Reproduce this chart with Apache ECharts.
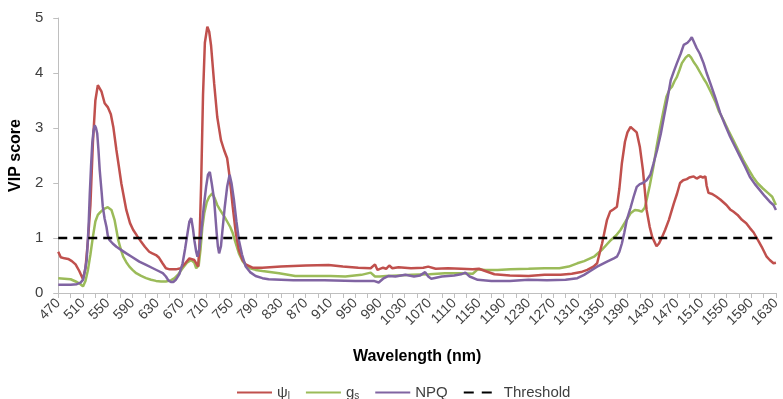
<!DOCTYPE html>
<html>
<head>
<meta charset="utf-8">
<script src="https://cdn.jsdelivr.net/npm/echarts@6/dist/echarts.min.js"></script>
<style>
  html, body { margin: 0; padding: 0; background: #fff; }
  #chart { width: 783px; height: 399px; }
</style>
</head>
<body>
<div id="chart"></div>
<script>
// VIP scores, per wavelength (nm)
const psiNm = [470, 474, 480, 486, 492, 498, 504, 510, 514, 518, 522, 526, 530, 534, 537, 540, 545, 550, 555, 559, 564, 568, 572, 580, 586, 591, 598, 604, 610, 617, 622, 628, 633, 638, 644, 650, 660, 668, 676, 682, 690, 696, 698, 701, 704, 707, 711, 714, 717, 722, 727, 733, 738, 743, 746, 749, 752, 757, 762, 768, 773, 784, 800, 830, 870, 907, 930, 955, 975, 982, 986, 995, 1000, 1005, 1010, 1020, 1040, 1060, 1068, 1080, 1100, 1121, 1140, 1150, 1160, 1175, 1200, 1230, 1256, 1282, 1300, 1315, 1325, 1335, 1341, 1349, 1357, 1362, 1367, 1373, 1377, 1381, 1386, 1390, 1395, 1399, 1405, 1410, 1415, 1421, 1426, 1430, 1437, 1441, 1446, 1451, 1457, 1465, 1470, 1475, 1480, 1486, 1490, 1497, 1502, 1508, 1512, 1516, 1518, 1521, 1527, 1534, 1540, 1545, 1550, 1556, 1561, 1568, 1575, 1582, 1588, 1594, 1599, 1603, 1607, 1611, 1615, 1620, 1626, 1630];
const psiVal = [0.75, 0.65, 0.63, 0.62, 0.58, 0.52, 0.4, 0.25, 0.45, 0.95, 1.6, 2.73, 3.5, 3.78, 3.81, 3.66, 3.45, 3.38, 3.25, 3.02, 2.6, 2.3, 1.99, 1.51, 1.27, 1.15, 1.03, 0.93, 0.84, 0.75, 0.72, 0.69, 0.64, 0.55, 0.45, 0.43, 0.43, 0.45, 0.55, 0.63, 0.6, 0.48, 0.8, 2.0, 3.6, 4.55, 4.84, 4.75, 4.5, 3.81, 3.2, 2.78, 2.6, 2.45, 2.2, 1.9, 1.57, 1.09, 0.78, 0.6, 0.52, 0.46, 0.46, 0.48, 0.5, 0.51, 0.48, 0.46, 0.45, 0.52, 0.42, 0.46, 0.44, 0.5, 0.45, 0.47, 0.45, 0.46, 0.48, 0.44, 0.45, 0.44, 0.43, 0.44, 0.4, 0.34, 0.32, 0.31, 0.33, 0.33, 0.35, 0.38, 0.42, 0.48, 0.54, 0.9, 1.33, 1.48, 1.52, 1.57, 1.9, 2.36, 2.75, 2.92, 3.02, 2.98, 2.92, 2.66, 2.24, 1.51, 1.2, 1.02, 0.85, 0.9, 1.02, 1.15, 1.33, 1.63, 1.8, 2.0, 2.05, 2.07, 2.1, 2.12, 2.08, 2.12, 2.1, 2.12, 1.95, 1.82, 1.8, 1.75, 1.7, 1.65, 1.6, 1.52, 1.48, 1.42, 1.33, 1.27, 1.18, 1.1, 1.0, 0.92, 0.84, 0.75, 0.66, 0.6, 0.54, 0.55];

const gsNm = [470, 480, 490, 500, 506, 510, 514, 518, 522, 526, 530, 534, 538, 542, 546, 550, 553, 556, 561, 564, 567, 571, 575, 580, 585, 590, 596, 604, 612, 620, 628, 636, 644, 652, 658, 664, 671, 678, 685, 690, 693, 697, 700, 703, 706, 710, 714, 719, 723, 727, 731, 735, 739, 743, 748, 752, 757, 762, 768, 773, 780, 789, 800, 827, 853, 880, 910, 934, 960, 975, 978, 982, 990, 1000, 1020, 1041, 1070, 1095, 1120, 1140, 1148, 1160, 1180, 1201, 1230, 1256, 1280, 1295, 1309, 1320, 1336, 1350, 1363, 1372, 1379, 1387, 1395, 1402, 1408, 1413, 1418, 1421, 1426, 1432, 1437, 1442, 1448, 1453, 1458, 1462, 1466, 1470, 1474, 1478, 1484, 1489, 1493, 1497, 1502, 1508, 1513, 1518, 1525, 1532, 1538, 1545, 1553, 1561, 1569, 1577, 1585, 1593, 1600, 1609, 1617, 1624, 1630];
const gsVal = [0.27, 0.26, 0.25, 0.2, 0.16, 0.12, 0.22, 0.42, 0.7, 1.02, 1.3, 1.42, 1.47, 1.51, 1.54, 1.56, 1.55, 1.51, 1.33, 1.15, 0.96, 0.8, 0.66, 0.56, 0.48, 0.42, 0.36, 0.31, 0.27, 0.24, 0.22, 0.21, 0.21, 0.23, 0.27, 0.34, 0.45, 0.55, 0.6, 0.55, 0.45, 0.5, 0.8, 1.2, 1.45, 1.65, 1.75, 1.81, 1.72, 1.6, 1.52, 1.45, 1.38, 1.3, 1.2, 1.09, 0.9, 0.72, 0.58, 0.51, 0.45, 0.42, 0.4, 0.36, 0.31, 0.31, 0.31, 0.3, 0.33, 0.37, 0.39, 0.3, 0.3, 0.31, 0.32, 0.33, 0.34, 0.36, 0.36, 0.35, 0.43, 0.42, 0.42, 0.43, 0.44, 0.45, 0.45, 0.48, 0.54, 0.58, 0.66, 0.8, 0.96, 1.05, 1.15, 1.3, 1.45, 1.51, 1.5, 1.48, 1.55, 1.69, 1.95, 2.3, 2.65, 2.96, 3.3, 3.57, 3.7, 3.75, 3.85, 3.93, 4.05, 4.18, 4.28, 4.33, 4.28, 4.2, 4.12, 4.0, 3.9, 3.81, 3.65, 3.48, 3.3, 3.15, 2.96, 2.78, 2.6, 2.42, 2.26, 2.11, 2.0, 1.9, 1.82, 1.75, 1.6];

const npqNm = [470, 490, 500, 506, 510, 513, 516, 519, 521, 523, 525, 527, 529, 531, 533, 535, 537, 540, 542, 545, 548, 550, 553, 558, 564, 572, 580, 590, 601, 612, 623, 632, 639, 644, 648, 652, 656, 660, 666, 671, 675, 679, 682, 685, 688, 690, 693, 695, 698, 701, 705, 709, 712, 715, 718, 722, 726, 728, 730, 733, 735, 739, 743, 747, 750, 754, 758, 762, 767, 773, 780, 789, 800, 810, 850, 900, 950, 980, 988, 995, 1004, 1015, 1031, 1045, 1055, 1063, 1068, 1073, 1090, 1110, 1121, 1128, 1135, 1148, 1170, 1200, 1230, 1260, 1290, 1309, 1320, 1330, 1341, 1357, 1368, 1373, 1377, 1381, 1385, 1389, 1395, 1400, 1405, 1410, 1415, 1421, 1427, 1432, 1438, 1444, 1449, 1455, 1460, 1465, 1470, 1476, 1481, 1487, 1491, 1494, 1498, 1502, 1507, 1513, 1518, 1524, 1532, 1540, 1548, 1556, 1564, 1572, 1580, 1588, 1596, 1604, 1612, 1620, 1626, 1630];
const npqVal = [0.15, 0.15, 0.16, 0.19, 0.24, 0.4, 0.6, 1.2, 1.81, 2.3, 2.72, 2.95, 3.05, 3.0, 2.9, 2.6, 2.24, 1.85, 1.57, 1.35, 1.2, 1.05, 0.96, 0.9, 0.84, 0.78, 0.72, 0.65, 0.57, 0.51, 0.45, 0.4, 0.36, 0.3, 0.23, 0.2, 0.2, 0.24, 0.35, 0.54, 0.8, 1.09, 1.3, 1.36, 1.15, 0.96, 0.75, 0.66, 0.8, 1.09, 1.55, 1.93, 2.15, 2.2, 2.0, 1.69, 1.1, 0.85, 0.72, 0.85, 1.09, 1.55, 1.93, 2.15, 2.0, 1.69, 1.3, 0.96, 0.7, 0.48, 0.38, 0.31, 0.27, 0.25, 0.23, 0.23, 0.22, 0.22, 0.19, 0.26, 0.31, 0.3, 0.33, 0.3, 0.32, 0.38, 0.3, 0.26, 0.3, 0.32, 0.34, 0.37, 0.3, 0.24, 0.22, 0.22, 0.24, 0.23, 0.24, 0.27, 0.33, 0.4, 0.48, 0.57, 0.63, 0.66, 0.75, 0.9, 1.1, 1.33, 1.55, 1.75, 1.93, 1.98, 2.0, 2.05, 2.15, 2.35, 2.6, 2.9, 3.2, 3.55, 3.87, 4.03, 4.18, 4.35, 4.51, 4.55, 4.6, 4.65, 4.55, 4.45, 4.35, 4.18, 4.0, 3.81, 3.55, 3.27, 3.05, 2.84, 2.66, 2.48, 2.3, 2.11, 1.98, 1.87, 1.76, 1.66, 1.6, 1.51];

const thrNm = [470, 1630];
const thrVal = [1, 1];

const yTicks = [0, 1, 2, 3, 4, 5];

const pairs = (xs, ys) => xs.map((x, i) => [x, ys[i]]);

const chartDom = document.getElementById('chart');
const myChart = echarts.init(chartDom);

const font = '"Liberation Sans", Arial, sans-serif';
const textColor = '#404040';
const axisColor = '#bfbfbf';

const legendNames = {
    'ψl': '{m|ψ}{sub|l}',
    'gs': '{m|g}{sub|s}',
    NPQ: '{m|NPQ}',
    Threshold: '{m|Threshold}',
};

const option = {
    animation: false,
    textStyle: { fontFamily: font },
    grid: { left: 58, right: 3, top: 18, bottom: 106, containLabel: false },
    legend: {
        top: 380,
        left: 231,
        itemWidth: 35,
        itemHeight: 4,
        itemGap: 15,
        itemStyle: { opacity: 0 },
        formatter: (name) => legendNames[name],
        textStyle: {
            color: textColor,
            fontFamily: font,
            rich: {
                m: { fontSize: 15, color: textColor, fontFamily: font },
                sub: { fontSize: 10, color: textColor, fontFamily: font, verticalAlign: 'bottom', padding: [7, 0, 0, 0] },
            },
        },
        data: [
            'ψl',
            'gs',
            'NPQ',
            { name: 'Threshold', lineStyle: { type: [10, 8] } },
        ],
    },
    xAxis: {
        type: 'value',
        min: 470,
        max: 1630,
        interval: 20,
        name: 'Wavelength (nm)',
        nameLocation: 'middle',
        nameGap: 56,
        nameTextStyle: { fontWeight: 'bold', fontSize: 16, color: '#000', fontFamily: font },
        axisLine: { lineStyle: { color: axisColor, width: 1 } },
        axisTick: { length: 5, lineStyle: { color: axisColor } },
        splitLine: { show: false },
        axisLabel: {
            rotate: 45,
            fontSize: 14,
            color: textColor,
            margin: 8,
            showMaxLabel: true,
            formatter: (v) => ((v - 470) % 40 === 0 ? String(v) : ''),
        },
    },
    yAxis: {
        type: 'value',
        min: yTicks[0],
        max: yTicks[yTicks.length - 1],
        interval: 1,
        name: 'VIP score',
        nameLocation: 'middle',
        nameGap: 32,
        nameTextStyle: { fontWeight: 'bold', fontSize: 16, color: '#000', fontFamily: font },
        axisLine: { show: true, lineStyle: { color: axisColor, width: 1 } },
        axisTick: { show: true, length: 5, lineStyle: { color: axisColor } },
        splitLine: { show: false },
        axisLabel: { fontSize: 15, color: textColor, margin: 15 },
    },
    series: [
        {
            name: 'ψl',
            type: 'line',
            symbol: 'none',
            color: '#c0504d',
            lineStyle: { width: 2.5, color: '#c0504d' },
            data: pairs(psiNm, psiVal),
            z: 3,
        },
        {
            name: 'gs',
            type: 'line',
            symbol: 'none',
            color: '#9bbb59',
            lineStyle: { width: 2.5, color: '#9bbb59' },
            data: pairs(gsNm, gsVal),
            z: 2,
        },
        {
            name: 'NPQ',
            type: 'line',
            symbol: 'none',
            color: '#8064a2',
            lineStyle: { width: 2.5, color: '#8064a2' },
            data: pairs(npqNm, npqVal),
            z: 4,
        },
        {
            name: 'Threshold',
            type: 'line',
            symbol: 'none',
            color: '#000',
            lineStyle: { width: 2.5, color: '#000', type: [9, 6] },
            data: pairs(thrNm, thrVal),
            z: 5,
        },
    ],
};
myChart.setOption(option);
</script>
</body>
</html>
